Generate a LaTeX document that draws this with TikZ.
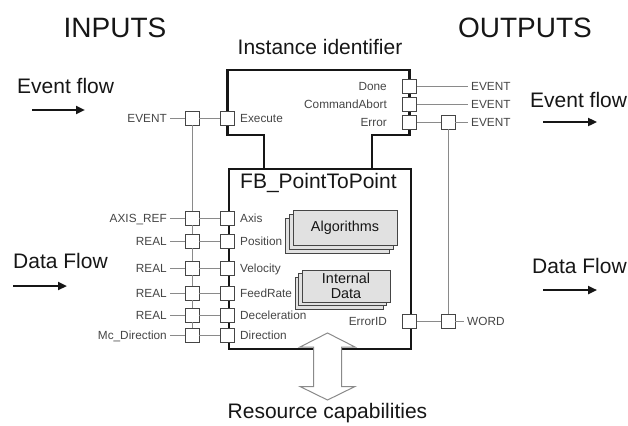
\documentclass[tikz,border=0pt]{standalone}
\usepackage{fontspec}
\setmainfont{Liberation Sans}
\usetikzlibrary{arrows.meta, positioning, shadows}
\definecolor{fbline}{HTML}{161616}
\definecolor{fbwire}{HTML}{8A8A8A}
\definecolor{fbtext}{HTML}{454545}
\definecolor{fbfill}{HTML}{E1E1E1}

\tikzset{
  blockline/.style={draw=fbline, line width=2.2pt, line join=miter},
  port/.style={draw=fbtext, fill=white, line width=0.8pt, minimum size=14pt, inner sep=0pt},
  wire/.style={draw=fbwire, line width=0.9pt},
  typelbl/.style={font=\fontsize{11.8}{14}\selectfont, text=fbtext, inner sep=3pt,
    text height=8.5pt, text depth=0pt},
  portlbl/.style={font=\fontsize{11.8}{14}\selectfont, text=fbtext, inner sep=2pt,
    text height=8.5pt, text depth=0pt},
  bigtitle/.style={font=\fontsize{28}{32}\selectfont, text=fbline, inner sep=0pt},
  midtitle/.style={font=\fontsize{21}{25}\selectfont, text=fbline, inner sep=0pt},
  flowarrow/.style={draw=fbline, line width=2.6pt, -{Triangle[length=9pt, width=8pt]}},
  stackbox/.style={draw=fbtext, fill=fbfill, line width=0.8pt, inner sep=0pt,
    font=\fontsize{14.4}{15}\selectfont, text=fbline,
    copy shadow={shadow xshift=-2*#1, shadow yshift=-2*#1, draw=fbtext, line width=0.8pt},
    copy shadow={shadow xshift=-#1, shadow yshift=-#1, draw=fbtext, line width=0.8pt}},
  resarrow/.style={draw=fbwire, fill=white, line width=1pt, line join=miter},
}

\begin{document}
\begin{tikzpicture}[x=1pt, y=-1pt]
  \useasboundingbox (0,0) rectangle (628,425);
  \def\xl{227.5} % block left edge
  \def\xr{409.5} % block right edge
  \def\xi{192} % input bus
  \def\xo{448} % output bus
  % headings
  \node[bigtitle, anchor=base] (inputs) at (115,38) {INPUTS};
  \node[bigtitle, anchor=base] (outputs) at (525,38) {OUTPUTS};
  \node[midtitle, anchor=base] (instid) at (320,55) {Instance identifier};
  \node[midtitle, anchor=base] (rescap) at (327.5,418) {Resource capabilities};
  % flow labels and arrows
  \node[midtitle, anchor=base west] (evin) at (17,93) {Event flow};
  \node[midtitle, anchor=base west] (datain) at (13,268) {Data Flow};
  \node[midtitle, anchor=base west] (evout) at (530,107) {Event flow};
  \node[midtitle, anchor=base west] (dataout) at (532,273) {Data Flow};
  \coordinate (evinA) at (32,110);  \coordinate (evinB) at (85,110);
  \coordinate (datainA) at (13,286); \coordinate (datainB) at (67,286);
  \coordinate (evoutA) at (543,122); \coordinate (evoutB) at (597,122);
  \coordinate (dataoutA) at (543,290); \coordinate (dataoutB) at (597,290);
  \draw[flowarrow] (evinA) -- (evinB);
  \draw[flowarrow] (datainA) -- (datainB);
  \draw[flowarrow] (evoutA) -- (evoutB);
  \draw[flowarrow] (dataoutA) -- (dataoutB);
  % function block
  \draw[blockline] (264,168) -- (264,135) -- (\xl,135) -- (\xl,70) -- (\xr,70)
    -- (\xr,135) -- (372,135) -- (372,168);
  \node[blockline, minimum width=182pt, minimum height=180pt, inner sep=0pt,
    anchor=north west] (fb) at (\xl,168) {};
  \node[midtitle, anchor=base west] (fbname) at (240,188) {FB\_PointToPoint};
  \node[stackbox=4pt, minimum width=104pt, minimum height=35pt] (algo) at (345,227.5) {Algorithms};
  \node[stackbox=3.5pt, minimum width=88pt, minimum height=32pt, align=center] (idata)
    at (346,286) {Internal\\Data};
  \draw[resarrow, shift={(327.5,366.5)}] (0,-33.5) -- (27.5,-19.5) -- (14,-19.5) -- (14,20)
    -- (27.5,20) -- (0,33.5) -- (-27.5,20) -- (-14,20) -- (-14,-19.5) -- (-27.5,-19.5) -- cycle;
  % event input
  \node[port] (pexec) at (\xl,118) {};
  \node[portlbl, anchor=west] (lexec) at (238,118) {Execute};
  \node[port] (oexec) at (\xi,118) {};
  \node[typelbl, anchor=east] (texec) at (170,118) {EVENT};
  \draw[wire] (texec) -- (oexec) -- (pexec);
  % data inputs
  \foreach \i/\yy/\pin/\typ in {1/218/Axis/AXIS\_REF, 2/241/Position/REAL,
    3/268/Velocity/REAL, 4/293/FeedRate/REAL, 5/315/Deceleration/REAL,
    6/335/Direction/Mc\_Direction}
  {
    \node[port] (p\i) at (\xl,\yy) {};
    \node[portlbl, anchor=west] (l\i) at (238,\yy) {\pin};
    \node[port] (o\i) at (\xi,\yy) {};
    \node[typelbl, anchor=east] (t\i) at (170,\yy) {\typ};
    \draw[wire] (t\i) -- (o\i) -- (p\i);
  }
  \draw[wire] (oexec) -- (o1);
  \foreach \i [evaluate=\i as \j using int(\i+1)] in {1,...,5}
    \draw[wire] (o\i) -- (o\j);
  % event outputs
  \foreach \i/\yy/\pout in {1/86/Done, 2/104/CommandAbort, 3/122/Error}
  {
    \node[port] (q\i) at (\xr,\yy) {};
    \node[portlbl, anchor=east] (r\i) at (389,\yy) {\pout};
    \node[typelbl, anchor=west] (e\i) at (468,\yy) {EVENT};
  }
  \node[port] (oerr) at (\xo,122) {};
  \draw[wire] (q1) -- (e1);
  \draw[wire] (q2) -- (e2);
  \draw[wire] (q3) -- (oerr) -- (e3);
  % data output
  \node[port] (q4) at (\xr,321) {};
  \node[portlbl, anchor=east] (r4) at (389,321) {ErrorID};
  \node[port] (oword) at (\xo,321) {};
  \node[typelbl, anchor=west] (tword) at (464,321) {WORD};
  \draw[wire] (q4) -- (oword) -- (tword);
  \draw[wire] (oerr) -- (oword);
\end{tikzpicture}
\end{document}
